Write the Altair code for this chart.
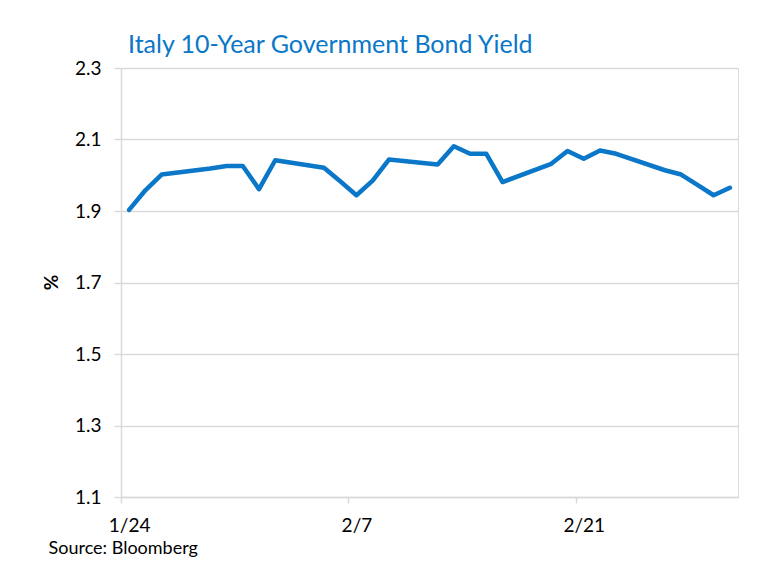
import altair as alt
import pandas as pd

dates = ["2018-01-24", "2018-01-25", "2018-01-26", "2018-01-29", "2018-01-30",
         "2018-01-31", "2018-02-01", "2018-02-02", "2018-02-05", "2018-02-06",
         "2018-02-07", "2018-02-08", "2018-02-09", "2018-02-12", "2018-02-13",
         "2018-02-14", "2018-02-15", "2018-02-16", "2018-02-19", "2018-02-20",
         "2018-02-21", "2018-02-22", "2018-02-23", "2018-02-26", "2018-02-27",
         "2018-02-28", "2018-03-01", "2018-03-02"]
yields = [1.903, 1.958, 2.002, 2.019, 2.026,
          2.026, 1.961, 2.042, 2.021, 1.983,
          1.944, 1.985, 2.044, 2.030, 2.081,
          2.060, 2.060, 1.981, 2.032, 2.068,
          2.046, 2.069, 2.060, 2.014, 2.002,
          1.973, 1.944, 1.965]
y_ticks = [1.1, 1.3, 1.5, 1.7, 1.9, 2.1, 2.3]
x_label_dates = ["2018-01-24", "2018-02-07", "2018-02-21"]

df = pd.DataFrame({"date": dates, "yield": yields})

FONT = "Lato"
BLUE = "#0A77C8"
GRID = "#D9D9D9"

x_enc = alt.X(
    "date:T",
    scale=alt.Scale(type="utc",
                    domain=[alt.DateTime(year=2018, month=1, date=23, hours=12, utc=True),
                            alt.DateTime(year=2018, month=3, date=2, hours=12, utc=True)]),
    axis=alt.Axis(
        values=[alt.DateTime(year=2018, month=int(d[5:7]), date=int(d[8:10]), utc=True)
                for d in x_label_dates],
        labelExpr="utcFormat(datum.value, '%-m/%-d')",
        grid=False, domainColor=GRID, domainWidth=1.5,
        tickColor=GRID, tickWidth=1.5, tickSize=6,
        tickOffset=-8.1, labelOffset=8.1,
        labelFont=FONT, labelFontSize=19, labelColor="#000000", labelPadding=13,
        title="Source: Bloomberg", titleFont=FONT, titleFontSize=18,
        titleFontWeight="normal", titleColor="#000000",
        titleAnchor="start", titleAlign="left", titleX=-73, titleY=51,
        titleBaseline="middle",
    ),
)

y_enc = alt.Y(
    "yield:Q",
    scale=alt.Scale(domain=[1.1, 2.3], nice=False, zero=False),
    axis=alt.Axis(
        values=y_ticks, format=".1f",
        grid=True, gridColor=GRID, gridWidth=1.5,
        domainColor=GRID, domainWidth=1.5,
        tickColor=GRID, tickWidth=1.5, tickSize=7,
        labelFont=FONT, labelFontSize=19, labelColor="#000000", labelPadding=13,
        title="%", titleFont=FONT, titleFontSize=19, titleFontWeight="bold",
        titleColor="#000000", titleX=-70, titleY=214, titleAngle=-90,
        titleBaseline="middle", titleAlign="center",
    ),
)

chart = alt.Chart(df).mark_line(color=BLUE, strokeWidth=4.5, strokeJoin="round",
                                strokeCap="round").encode(
    x=x_enc, y=y_enc
).properties(
    width=617, height=429,
    title=alt.TitleParams("Italy 10-Year Government Bond Yield", anchor="start",
                          frame="group", dx=7, offset=1,
                          color=BLUE, font=FONT, fontSize=25, fontWeight="normal"),
    autosize=alt.AutoSizeParams(type="none"),
    padding={"left": 113, "top": 60, "right": 10, "bottom": 60},
).configure_view(stroke=None).configure(background="white")

chart.save("out.html", embed_options={"renderer": "svg", "actions": False})
